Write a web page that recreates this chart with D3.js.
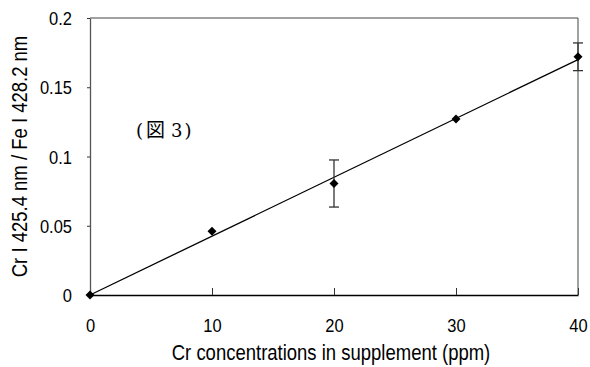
<!DOCTYPE html>
<html>
<head>
<meta charset="utf-8">
<script src="https://cdn.jsdelivr.net/npm/d3@7"></script>
<style>
  body { margin: 0; background: #fff; }
  text { font-family: "Liberation Sans", Arial, sans-serif; }
</style>
</head>
<body>
<div id="chart"></div>
<script>
// data
const concentrations = [0, 10, 20, 30, 40];
const ratios = [0, 0.046, 0.0805, 0.127, 0.172];
const errors = [0, 0.001, 0.017, 0.001, 0.010];
const fitLine = [[0, 0], [40, 0.170]];
const xTicks = [0, 10, 20, 30, 40];
const yTicks = [0, 0.05, 0.1, 0.15, 0.2];

const width = 590, height = 367;
const margin = { top: 18, right: 12, bottom: 72, left: 90 };
const w = width - margin.left - margin.right;
const h = height - margin.top - margin.bottom;
const stretch = 1.15; // the original lettering is a bit taller than Liberation Sans

const svg = d3.select('#chart').append('svg')
  .attr('width', width)
  .attr('height', height);

const g = svg.append('g')
  .attr('transform', `translate(${margin.left},${margin.top})`);

const x = d3.scaleLinear().domain([0, 40]).range([0, w]);
const y = d3.scaleLinear().domain([0, 0.2]).range([h, 0]);

// frame (top/right)
g.append('path')
  .attr('d', `M0,0H${w}V${h}`)
  .attr('fill', 'none')
  .attr('stroke', '#444')
  .attr('stroke-width', 1);

// x axis, ticks point inward
const xAxis = g.append('g')
  .attr('transform', `translate(0,${h})`)
  .call(d3.axisBottom(x).tickValues(xTicks).tickSize(-7).tickSizeOuter(0).tickFormat(d3.format('d')));
xAxis.select('.domain').attr('stroke', '#000').attr('stroke-width', 1.3);
xAxis.selectAll('.tick line').attr('stroke', '#333');
xAxis.selectAll('text')
  .attr('font-size', 16.5).attr('fill', '#000')
  .attr('y', null).attr('dy', null)
  .attr('transform', `translate(0,37) scale(1,${stretch})`)
  .style('font-family', '"Liberation Sans", Arial, sans-serif');

// y axis, short outward ticks
const yAxis = g.append('g')
  .call(d3.axisLeft(y).tickValues(yTicks).tickSize(3).tickSizeOuter(0)
    .tickFormat(d => d === 0 ? '0' : String(+d.toFixed(2))));
yAxis.select('.domain').attr('stroke', '#555').attr('stroke-width', 1.3);
yAxis.selectAll('.tick line').attr('stroke', '#333');
yAxis.selectAll('text')
  .attr('font-size', 16.5).attr('fill', '#000')
  .attr('x', null).attr('dy', null)
  .attr('transform', `translate(-18,6.5) scale(1,${stretch})`)
  .style('font-family', '"Liberation Sans", Arial, sans-serif');

// fitted line
g.append('path')
  .datum(fitLine)
  .attr('fill', 'none')
  .attr('stroke', '#000')
  .attr('stroke-width', 1.3)
  .attr('d', d3.line().x(d => x(d[0])).y(d => y(d[1])));

// error bars
const pts = concentrations.map((c, i) => ({ c, v: ratios[i], e: errors[i] }));
const eb = g.selectAll('.err').data(pts.filter(d => d.e > 0.003)).enter().append('g')
  .attr('stroke', '#333').attr('stroke-width', 1.3);
eb.append('line')
  .attr('x1', d => x(d.c)).attr('x2', d => x(d.c))
  .attr('y1', d => y(d.v - d.e)).attr('y2', d => y(d.v + d.e));
eb.append('line')
  .attr('x1', d => x(d.c) - 5).attr('x2', d => x(d.c) + 5)
  .attr('y1', d => y(d.v + d.e)).attr('y2', d => y(d.v + d.e));
eb.append('line')
  .attr('x1', d => x(d.c) - 5).attr('x2', d => x(d.c) + 5)
  .attr('y1', d => y(d.v - d.e)).attr('y2', d => y(d.v - d.e));

// diamond markers
g.selectAll('.pt').data(pts).enter().append('path')
  .attr('transform', d => `translate(${x(d.c)},${y(d.v)})`)
  .attr('d', 'M0,-4.5L4.5,0L0,4.5L-4.5,0Z')
  .attr('fill', '#000');

// axis titles
svg.append('text')
  .attr('transform', `translate(331,360) scale(1,${stretch})`)
  .attr('text-anchor', 'middle')
  .attr('font-size', 18.5)
  .text('Cr concentrations in supplement (ppm)');

svg.append('text')
  .attr('transform', `translate(27,${margin.top + h / 2}) rotate(-90) scale(1,${stretch})`)
  .attr('text-anchor', 'middle')
  .attr('font-size', 18.5)
  .text('Cr I 425.4 nm / Fe I 428.2 nm');

// figure label
const lbl = svg.append('text')
  .attr('x', 136)
  .attr('y', 137)
  .attr('font-size', 18)
  .style('font-family', '"DejaVu Serif", serif');
lbl.append('tspan').text('(');
lbl.append('tspan').attr('dx', 3).attr('font-size', 19).style('font-family', '"Noto Sans CJK JP", sans-serif').text('図');
lbl.append('tspan').attr('dx', 6).text('3');
lbl.append('tspan').attr('dx', 2).text(')');
</script>
</body>
</html>
